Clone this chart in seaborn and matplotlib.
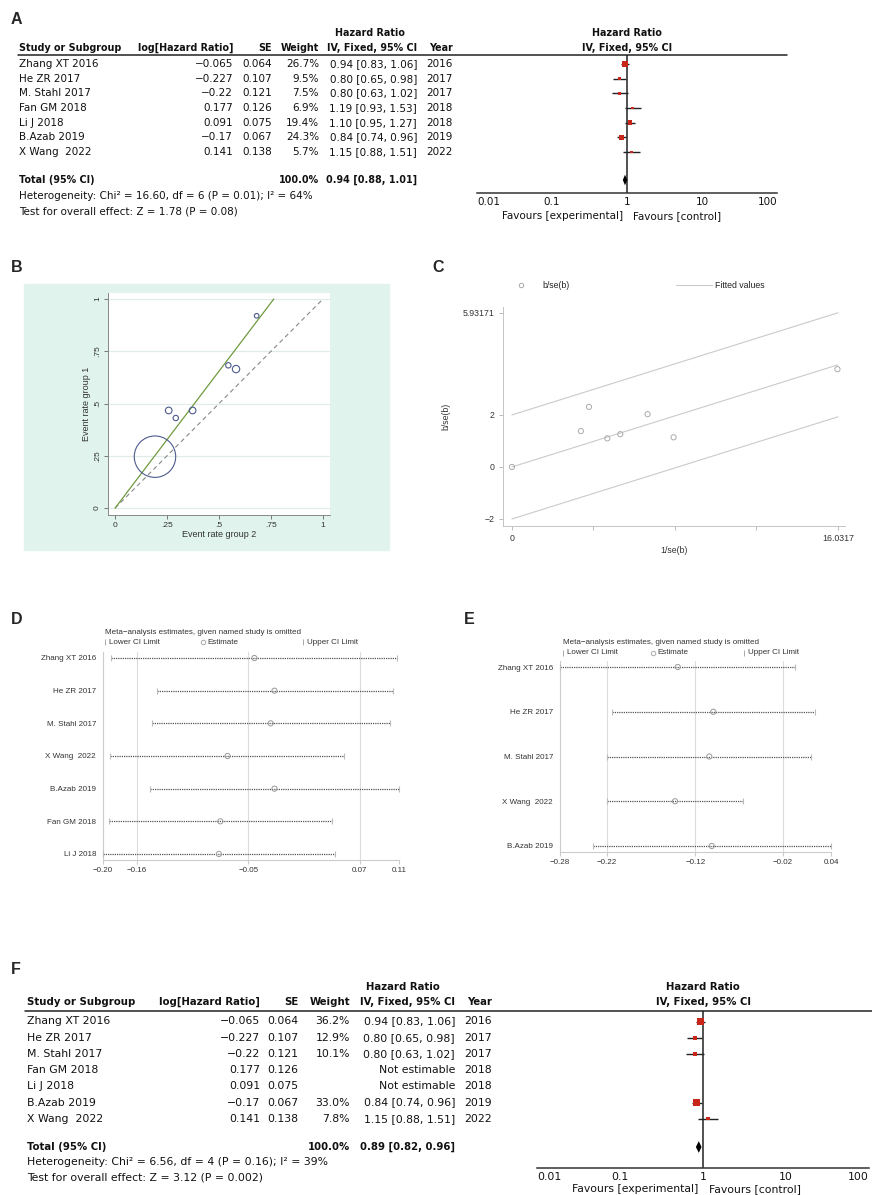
import matplotlib
matplotlib.use('Agg')
import matplotlib.pyplot as plt
import numpy as np
import pandas as pd
import seaborn as sns
from matplotlib.lines import Line2D
from matplotlib.patches import Rectangle

sns.set_style('white')
plt.rcParams['font.family'] = ['Liberation Sans', 'DejaVu Sans']

W, H = 872, 1195
TABLE_FONT = ['DejaVu Sans']
MINUS = '\u2212'

# ---- A / F: forest plots
studies = ['Zhang XT 2016', 'He ZR 2017', 'M. Stahl 2017', 'Fan GM 2018', 'Li J 2018', 'B.Azab 2019', 'X Wang  2022']
log_hr = [-0.065, -0.227, -0.22, 0.177, 0.091, -0.17, 0.141]
se = [0.064, 0.107, 0.121, 0.126, 0.075, 0.067, 0.138]
years = [2016, 2017, 2017, 2018, 2018, 2019, 2022]
hr = [0.94, 0.80, 0.80, 1.19, 1.10, 0.84, 1.15]
hr_lo = [0.83, 0.65, 0.63, 0.93, 0.95, 0.74, 0.88]
hr_hi = [1.06, 0.98, 1.02, 1.53, 1.27, 0.96, 1.51]
weight_a = [26.7, 9.5, 7.5, 6.9, 19.4, 24.3, 5.7]
weight_f = [36.2, 12.9, 10.1, np.nan, np.nan, 33.0, 7.8]
total_a = (0.94, 0.88, 1.01)
total_f = (0.89, 0.82, 0.96)
het_a = 'Heterogeneity: Chi\u00b2 = 16.60, df = 6 (P = 0.01); I\u00b2 = 64%'
test_a = 'Test for overall effect: Z = 1.78 (P = 0.08)'
het_f = 'Heterogeneity: Chi\u00b2 = 6.56, df = 4 (P = 0.16); I\u00b2 = 39%'
test_f = 'Test for overall effect: Z = 3.12 (P = 0.002)'
hr_ticks = [0.01, 0.1, 1, 10, 100]

# ---- B: L'Abbe plot
rate_group2 = [0.681, 0.545, 0.582, 0.258, 0.292, 0.373, 0.192]
rate_group1 = [0.920, 0.683, 0.665, 0.467, 0.431, 0.467, 0.246]
bubble_weight = [11, 15, 28, 23, 15, 23, 890]
labbe_slope = 1.31

# ---- C: Galbraith plot
inv_se = [0.0, 3.39, 3.79, 4.69, 5.33, 6.67, 7.95, 16.01]
z_score = [0.0, 1.38, 2.31, 1.10, 1.26, 2.03, 1.14, 3.76]
galb_slope = 0.245
galb_band = [-2, 0, 2]
galb_xmax = 16.0317
galb_ymax = 5.93171

# ---- D / E: influence analysis
inf_d_names = ['Zhang XT 2016', 'He ZR 2017', 'M. Stahl 2017', 'X Wang  2022', 'B.Azab 2019', 'Fan GM 2018', 'Li J 2018']
inf_d_lo = [-0.192, -0.144, -0.149, -0.193, -0.151, -0.194, -0.200]
inf_d_est = [-0.042, -0.021, -0.025, -0.070, -0.021, -0.0775, -0.079]
inf_d_hi = [0.1065, 0.103, 0.0998, 0.0517, 0.109, 0.0394, 0.0419]
inf_d_ticks = [-0.200, -0.1644, -0.0482, 0.068, 0.109]
inf_d_labels = ['-0.20', '-0.16', '-0.05', '0.07', '0.11']

inf_e_names = ['Zhang XT 2016', 'He ZR 2017', 'M. Stahl 2017', 'X Wang  2022', 'B.Azab 2019']
inf_e_lo = [-0.276, -0.2164, -0.2215, -0.2215, -0.2383]
inf_e_est = [-0.1404, -0.0994, -0.104, -0.1435, -0.1012]
inf_e_hi = [-0.0053, 0.0178, 0.0132, -0.0655, 0.0362]
inf_e_ticks = [-0.276, -0.222, -0.12, -0.019, 0.0362]
inf_e_labels = ['-0.28', '-0.22', '-0.12', '-0.02', '0.04']

GEOM_A = dict(line_y=55, row0=64, dy=14.67, axis_y=193, x_lo=477, x_hi=777, total_y=180,
              het_y=196, test_y=211, hdr_y=48, hr_y=33, line_x=(18, 787), study_x=19,
              cols=(233, 272, 319, 417, 453), hr_center=370, fs=7.5, scale=1.0, fav_px=23)
GEOM_F = dict(line_y=1011, row0=1021.5, dy=16.2, axis_y=1168, x_lo=537, x_hi=869, total_y=1147,
              het_y=1162, test_y=1178, hdr_y=1002, hr_y=987, line_x=(25, 872), study_x=27,
              cols=(260, 298, 350, 455, 492), hr_center=403, fs=7.85, scale=1.107, fav_px=21)


def px_rect(x0, y0, x1, y1):
    return [x0 / W, 1 - y1 / H, (x1 - x0) / W, (y1 - y0) / H]


def ftext(fig, x, y, s, **kw):
    return fig.text(x / W, 1 - y / H, s, **kw)


def fmt_num(v):
    return f'{v:g}'.replace('-', MINUS)


def forest(fig, weights, total, het, test, g):
    """RevMan style table + forest plot."""
    fs = g['fs']
    tkw = dict(fontsize=fs, family=TABLE_FONT, color='#111', va='center')
    bkw = dict(tkw, fontsize=fs * 0.93, fontweight='bold')
    ax = fig.add_axes(px_rect(g['x_lo'], g['line_y'], g['x_hi'], g['axis_y']))
    ax.set_xscale('log')
    ax.set_xlim(hr_ticks[0], hr_ticks[-1])
    ax.set_ylim((g['axis_y'] - g['row0']) / g['dy'], (g['line_y'] - g['row0']) / g['dy'])
    ax.patch.set_alpha(0)

    df = pd.DataFrame({'study': studies, 'hr': hr, 'lo': hr_lo, 'hi': hr_hi, 'w': weights})
    df['row'] = np.arange(len(df))
    est = df.dropna(subset=['w'])
    ax.hlines(est['row'], est['lo'], est['hi'], color='#222', lw=1.0, zorder=2)
    k = 0.583 * g['scale'] ** 2
    sns.scatterplot(data=est, x='hr', y='row', size='w', sizes=(k * est['w'].min(), k * est['w'].max()),
                    size_norm=(est['w'].min(), est['w'].max()), marker='s', color='#c8261a',
                    edgecolor='none', legend=False, ax=ax, zorder=3)
    ax.axvline(1, color='#222', lw=1.1, zorder=1)
    t_row = (g['total_y'] - g['row0']) / g['dy']
    h = 0.36
    ax.fill([total[1], total[0], total[2], total[0]], [t_row, t_row - h, t_row, t_row + h],
            color='black', zorder=4, lw=0)

    for side in ['top', 'right', 'left']:
        ax.spines[side].set_visible(False)
    ax.spines['bottom'].set_color('#333')
    ax.spines['bottom'].set_linewidth(1.1)
    ax.set_xticks(hr_ticks)
    ax.set_xticklabels([fmt_num(t) for t in hr_ticks], family=TABLE_FONT, fontsize=fs, color='#111')
    ax.xaxis.set_minor_locator(matplotlib.ticker.NullLocator())
    ax.tick_params(axis='x', direction='inout', length=6, width=1.1, color='#333', pad=0)
    labs = ax.get_xticklabels()
    labs[0].set_ha('left')
    labs[-1].set_ha('right')
    ax.set_yticks([])
    ax.set_xlabel('')
    ax.set_ylabel('')
    fav_off = -g['fav_px'] * 0.72
    ax.annotate('Favours [experimental]', xy=(1, 0), xycoords=('data', 'axes fraction'),
                xytext=(-3, fav_off), textcoords='offset points', ha='right', **tkw)
    ax.annotate('Favours [control]', xy=(1, 0), xycoords=('data', 'axes fraction'),
                xytext=(4, fav_off), textcoords='offset points', ha='left', **tkw)

    # header
    mid = (g['x_lo'] + g['x_hi']) / 2
    ftext(fig, g['hr_center'], g['hr_y'], 'Hazard Ratio', ha='center', **bkw)
    ftext(fig, mid, g['hr_y'], 'Hazard Ratio', ha='center', **bkw)
    ftext(fig, mid, g['hdr_y'], 'IV, Fixed, 95% CI', ha='center', **bkw)
    c_log, c_se, c_w, c_ci, c_yr = g['cols']
    ftext(fig, g['study_x'], g['hdr_y'], 'Study or Subgroup', ha='left', **bkw)
    for x, s in zip(g['cols'], ['log[Hazard Ratio]', 'SE', 'Weight', 'IV, Fixed, 95% CI', 'Year']):
        ftext(fig, x, g['hdr_y'], s, ha='right', **bkw)
    fig.add_artist(Line2D([g['line_x'][0] / W, g['line_x'][1] / W], [1 - g['line_y'] / H] * 2,
                          color='#222', lw=1.1, transform=fig.transFigure))

    for i, r in df.iterrows():
        y = g['row0'] + i * g['dy']
        ftext(fig, g['study_x'], y, r['study'], ha='left', **tkw)
        ftext(fig, c_log, y, fmt_num(log_hr[i]), ha='right', **tkw)
        ftext(fig, c_se, y, f'{se[i]:.3f}', ha='right', **tkw)
        if np.isnan(r['w']):
            ftext(fig, c_ci, y, 'Not estimable', ha='right', **tkw)
        else:
            ftext(fig, c_w, y, f"{r['w']:.1f}%", ha='right', **tkw)
            ftext(fig, c_ci, y, f"{r['hr']:.2f} [{r['lo']:.2f}, {r['hi']:.2f}]", ha='right', **tkw)
        ftext(fig, c_yr, y, str(years[i]), ha='right', **tkw)

    ftext(fig, g['study_x'], g['total_y'], 'Total (95% CI)', ha='left', **bkw)
    ftext(fig, c_w, g['total_y'], '100.0%', ha='right', **bkw)
    ftext(fig, c_ci, g['total_y'], f'{total[0]:.2f} [{total[1]:.2f}, {total[2]:.2f}]', ha='right', **bkw)
    ftext(fig, g['study_x'], g['het_y'], het, ha='left', **tkw)
    ftext(fig, g['study_x'], g['test_y'], test, ha='left', **tkw)
    return ax


def influence(fig, rect, names, lo, est, hi, ticks, labels, title_xy, leg_x):
    """Stata metaninf style plot."""
    x0, y0, x1, y1 = rect
    n = len(names)
    ax = fig.add_axes(px_rect(x0, y0, x1, y1))
    df = pd.DataFrame({'name': names, 'lo': lo, 'est': est, 'hi': hi, 'row': np.arange(n)})
    dy = (y1 - y0 - 12) / (n - 1) if n > 1 else 1
    top_pad = 6 / dy
    bot_pad = (y1 - y0 - 6) / dy - (n - 1)
    ax.set_xlim(ticks[0], ticks[-1])
    ax.set_ylim(n - 1 + bot_pad, -top_pad)
    ax.set_xticks(ticks)
    ax.set_xticklabels([l.replace('-', MINUS) for l in labels], fontsize=5.8, color='#333')
    ax.xaxis.grid(True, color='#dcdcdc', lw=0.8)
    ax.set_axisbelow(True)
    ax.hlines(df['row'], df['lo'], df['hi'], color='#555', lw=0.9, linestyles=(0, (1, 0.8)), zorder=2)
    ax.scatter(df['lo'], df['row'], marker='|', color='#bbb', s=18, lw=0.8, zorder=3, clip_on=False)
    ax.scatter(df['hi'], df['row'], marker='|', color='#bbb', s=18, lw=0.8, zorder=3, clip_on=False)
    sns.scatterplot(data=df, x='est', y='row', marker='o', s=14, facecolor='none', edgecolor='#999',
                    linewidth=0.7, ax=ax, zorder=4, clip_on=False)
    ax.set_yticks(df['row'])
    ax.set_yticklabels(names, fontsize=5.8, color='#333')
    ax.tick_params(axis='y', length=0, pad=5)
    ax.tick_params(axis='x', length=3, color='#ccc', width=0.8, pad=2, bottom=True)
    for side in ['top', 'right']:
        ax.spines[side].set_visible(False)
    for side in ['left', 'bottom']:
        ax.spines[side].set_color('#ccc')
        ax.spines[side].set_linewidth(0.8)
    ax.set_xlabel('')
    ax.set_ylabel('')

    tx, ty = title_xy
    ftext(fig, tx, ty, 'Meta\u2212analysis estimates, given named study is omitted', fontsize=5.8,
          color='#333', ha='left', va='center')
    ly = ty + 10
    lx_lo, lx_est, lx_hi = leg_x
    for x, lab, mk in [(lx_lo, 'Lower CI Limit', '|'), (lx_est, 'Estimate', 'o'), (lx_hi, 'Upper CI Limit', '|')]:
        fig.add_artist(Line2D([x / W], [1 - ly / H], marker=mk, ms=3.2 if mk == 'o' else 5,
                              mfc='none', mec='#aaa', mew=0.7, ls='none', transform=fig.transFigure))
        ftext(fig, x + 4, ly, lab, fontsize=5.8, color='#333', ha='left', va='center')
    return ax


def main():
    fig = plt.figure(figsize=(W / 100, H / 100), dpi=100)
    fig.patch.set_facecolor('white')

    # ---- panel letters
    for lab, x, y in [('A', 16, 19), ('B', 17, 267), ('C', 438, 267), ('D', 17, 619), ('E', 469, 620), ('F', 16, 969)]:
        ftext(fig, x, y, lab, fontsize=11.5, fontweight='bold', ha='center', va='center')

    forest(fig, weight_a, total_a, het_a, test_a, GEOM_A)
    forest(fig, weight_f, total_f, het_f, test_f, GEOM_F)

    # ---- B
    fig.add_artist(Rectangle((24 / W, 1 - 550 / H), (389 - 24) / W, (550 - 284) / H,
                             transform=fig.transFigure, color='#e0f3ed', zorder=0))
    axb = fig.add_axes(px_rect(108, 293, 330, 515))
    axb.set_facecolor('white')
    axb.set_xlim(-0.034, 1.034)
    axb.set_ylim(-0.033, 1.029)
    ticks_b = [0, 0.25, 0.5, 0.75, 1]
    tick_lab_b = ['0', '.25', '.5', '.75', '1']
    axb.set_xticks(ticks_b)
    axb.set_xticklabels(tick_lab_b, fontsize=6, color='#333')
    axb.set_yticks(ticks_b)
    axb.set_yticklabels(tick_lab_b, fontsize=6, color='#333', rotation=90, va='center')
    axb.yaxis.grid(True, color='#e3ebe9', lw=0.9)
    axb.set_axisbelow(True)
    axb.tick_params(length=3, color='#777', width=0.7, pad=2, left=True, bottom=True)
    for side in ['top', 'right']:
        axb.spines[side].set_visible(False)
    for side in ['left', 'bottom']:
        axb.spines[side].set_color('#888')
        axb.spines[side].set_linewidth(0.7)
    axb.plot([0, 1], [0, 1], color='#888', lw=0.8, ls=(0, (4, 3)), zorder=2)
    axb.plot([0, 1 / labbe_slope], [0, 1], color='#6f9a3e', lw=0.9, zorder=3)
    dfb = pd.DataFrame({'g2': rate_group2, 'g1': rate_group1, 'w': bubble_weight})
    sns.scatterplot(data=dfb, x='g2', y='g1', size='w', sizes=(min(bubble_weight), max(bubble_weight)),
                    size_norm=(min(bubble_weight), max(bubble_weight)), facecolor='none',
                    edgecolor='#4d5b8c', linewidth=0.8, legend=False, ax=axb, zorder=4)
    axb.set_xlabel('Event rate group 2', fontsize=6.5, color='#333', labelpad=1)
    axb.set_ylabel('Event rate group 1', fontsize=6.5, color='#333', labelpad=2)

    # ---- C
    axc = fig.add_axes(px_rect(503, 307, 845, 526))
    axc.set_xlim(-0.44, 16.38)
    axc.set_ylim(-2.27, 6.15)
    xs = np.array([0, galb_xmax])
    for off in galb_band:
        axc.plot(xs, galb_slope * xs + off, color='#cacaca', lw=0.8)
    dfc = pd.DataFrame({'x': inv_se, 'y': z_score})
    sns.scatterplot(data=dfc, x='x', y='y', marker='o', s=14, facecolor='none', edgecolor='#aaa',
                    linewidth=0.7, ax=axc, zorder=3)
    axc.set_xticks([0, 4, 8, 12, galb_xmax])
    axc.set_xticklabels(['0', '', '', '', f'{galb_xmax:g}'], fontsize=6.3, color='#333')
    axc.set_yticks([-2, 0, 2, galb_ymax])
    axc.set_yticklabels([f'{v:g}'.replace('-', MINUS) for v in [-2, 0, 2, galb_ymax]], fontsize=6.3, color='#333')
    axc.tick_params(length=3, color='#bbb', width=0.7, pad=3, left=True, bottom=True)
    for side in ['top', 'right']:
        axc.spines[side].set_visible(False)
    for side in ['left', 'bottom']:
        axc.spines[side].set_color('#c4c4c4')
        axc.spines[side].set_linewidth(0.7)
    axc.set_xlabel('1/se(b)', fontsize=6.3, color='#333', labelpad=2)
    axc.set_ylabel('b/se(b)', fontsize=6.3, color='#333', labelpad=9)
    handles = [Line2D([], [], ls='none', marker='o', mfc='none', mec='#aaa', ms=3.2, mew=0.7),
               Line2D([], [], color='#cacaca', lw=0.8)]
    axc.legend(handles, ['b/se(b)', 'Fitted values'], ncol=2, frameon=False, fontsize=6.3,
               loc='center left', bbox_to_anchor=(503 / W, 1 - 286 / H), bbox_transform=fig.transFigure,
               borderaxespad=0, borderpad=0, handlelength=4.2, handletextpad=0.3, columnspacing=12.1)

    # ---- D, E
    influence(fig, (103, 652, 399, 860), inf_d_names, inf_d_lo, inf_d_est, inf_d_hi,
              inf_d_ticks, inf_d_labels, (105, 632), (105, 203, 303))
    influence(fig, (560, 661, 831, 852), inf_e_names, inf_e_lo, inf_e_est, inf_e_hi,
              inf_e_ticks, inf_e_labels, (563, 643), (563, 653, 744))

    fig.savefig('out.png', dpi=100, facecolor='white')


if __name__ == '__main__':
    main()
